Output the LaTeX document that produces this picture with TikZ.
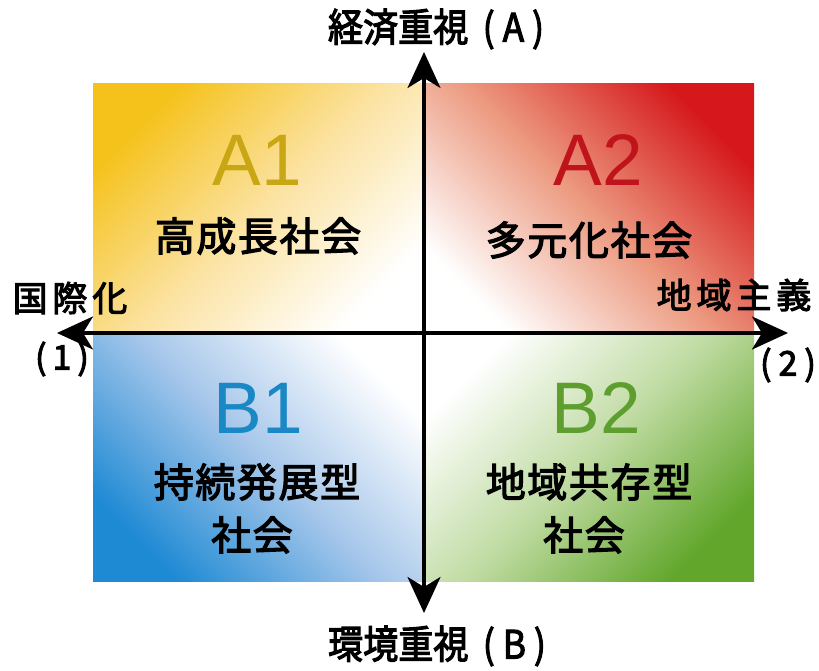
\documentclass[tikz,border=0pt]{standalone}
\usepackage{fontspec}
\usetikzlibrary{arrows.meta}
\newfontfamily\jp[FakeBold=3]{Noto Sans CJK JP}
\newfontfamily\lat{Liberation Sans}
\definecolor{qA1}{HTML}{F5C21C}
\definecolor{mA1}{HTML}{FBE2A0}
\definecolor{qA2}{HTML}{D6181C}
\definecolor{mA2}{HTML}{EC9A80}
\definecolor{qB1}{HTML}{1E8AD4}
\definecolor{mB1}{HTML}{A5C6EA}
\definecolor{qB2}{HTML}{62A72C}
\definecolor{mB2}{HTML}{C0DBA3}
\definecolor{tA1}{HTML}{C9A714}
\definecolor{tA2}{HTML}{BF141B}
\definecolor{tB1}{HTML}{1A88C5}
\definecolor{tB2}{HTML}{5E9E2E}
\tikzset{
  axisline/.style={line width=3.5pt, black, {Stealth[length=36pt,width=33pt,inset=10pt]}-{Stealth[length=36pt,width=33pt,inset=10pt]}},
  big/.style={font=\lat\fontsize{73}{73}\selectfont, inner sep=0pt},
  qlabel/.style={font=\jp\fontsize{40}{42}\selectfont\addfontfeature{LetterSpace=4}, inner sep=0pt, text=black},
  side/.style={font=\jp\fontsize{35}{36}\selectfont\addfontfeature{LetterSpace=14}, inner sep=0pt, text=black},
  ttl/.style={font=\jp\fontsize{39}{40}\selectfont, inner sep=0pt, text=black},
  paren/.style={font=\jp\fontsize{34}{36}\selectfont, inner sep=0pt, text=black},
}
\begin{document}
\begin{tikzpicture}[x=1pt,y=1pt]
\useasboundingbox[fill=white] (0,0) rectangle (819,671);
% quadrants
\shade[top color=qA1, bottom color=white, middle color=mA1, shading angle=45] (93,338) rectangle (424,587);
\shade[top color=qA2, bottom color=white, middle color=mA2, shading angle=-45] (424,338) rectangle (754,587);
\shade[top color=qB1, bottom color=white, middle color=mB1, shading angle=135] (93,89) rectangle (424,338);
\shade[top color=qB2, bottom color=white, middle color=mB2, shading angle=-135] (424,89) rectangle (754,338);
% axes
\coordinate (L) at (57,338);
\coordinate (R) at (788,338);
\coordinate (T) at (424,619);
\coordinate (B) at (424,58);
\draw[axisline] (L) -- (R);
\draw[axisline] (B) -- (T);
% quadrant labels
\node[big, text=tA1] (a1) at (257,511) {A1};
\node[big, text=tA2] (a2) at (598,511) {A2};
\node[big, text=tB1] (b1) at (258,263) {B1};
\node[big, text=tB2] (b2) at (596,263) {B2};
\node[qlabel] (a1t) at (258,435) {高成長社会};
\node[qlabel] (a2t) at (589,431) {多元化社会};
\node[qlabel] (b1t) at (257,189) {持続発展型};
\node[qlabel] (b1s) at (252,136) {社会};
\node[qlabel] (b2t) at (589,189) {地域共存型};
\node[qlabel] (b2s) at (584,136) {社会};
% axis labels
\node[ttl] (top) at (436,642) {\scalebox{0.9}[1]{経済重視\hskip 16pt(\hskip 9pt A\hskip 9pt)}};
\node[ttl] (bot) at (437,25) {\scalebox{0.9}[1]{環境重視\hskip 16pt(\hskip 9pt B\hskip 9pt)}};
\node[side] (lft) at (70,373) {国際化};
\node[paren] (one) at (62,312) {(\hskip 6pt 1\hskip 6pt)};
\node[side] (rgt) at (734,376) {地域主義};
\node[paren] (two) at (788,306) {(\hskip 7pt 2\hskip 7pt)};
\end{tikzpicture}
\end{document}
